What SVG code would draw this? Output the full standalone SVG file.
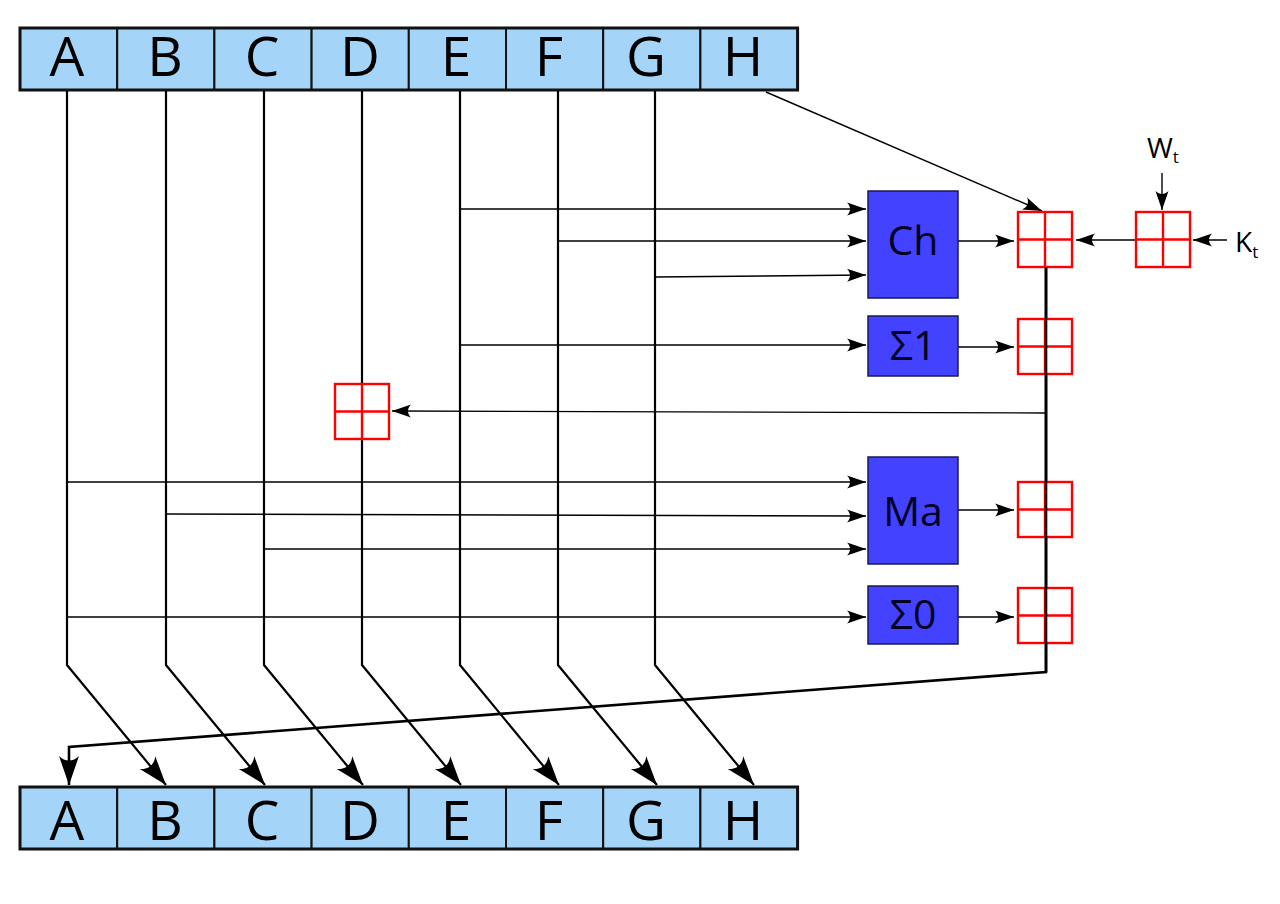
<svg xmlns="http://www.w3.org/2000/svg" xmlns:xlink="http://www.w3.org/1999/xlink" width="1280" height="904" viewBox="0 0 1280 904">
<style>
.reg{fill:#a4d4f8;stroke:#111;stroke-width:2}
.regout{fill:none;stroke:#111;stroke-width:3}
.rt{font-family:"Open Sans","Noto Sans",sans-serif;font-size:55px;fill:#000;text-anchor:middle}
.fn{fill:#4343ff;stroke:#1a1a55;stroke-width:1.5}
.ft{font-family:"Open Sans","Noto Sans",sans-serif;font-size:41px;fill:#000022;text-anchor:middle}
.lbl{font-family:"Open Sans","Noto Sans",sans-serif;font-size:28px;fill:#000}
.add{fill:#fff;stroke:#ff0000;stroke-width:2.4}
.w{fill:none;stroke:#000;stroke-width:1.4}
.t{fill:none;stroke:#000;stroke-width:2.2}
.b{fill:none;stroke:#000;stroke-width:2.6}
</style>
<defs>
<marker id="sa" markerUnits="userSpaceOnUse" orient="auto" refX="0" refY="0" markerWidth="30" markerHeight="30" overflow="visible">
<path d="M0,0 L-19,-6.5 C-15,-2.5 -15,2.5 -19,6.5 Z" fill="#000"/>
</marker>
<marker id="ba" markerUnits="userSpaceOnUse" orient="auto" refX="0" refY="0" markerWidth="40" markerHeight="40" overflow="visible">
<path d="M0,0 L-29,-10 C-23,-4 -23,4 -29,10 Z" fill="#000"/>
</marker>
<g id="adder">
<rect x="0" y="0" width="54" height="55" class="add"/>
<path d="M27,0 V55 M0,27.5 H54" stroke="#ff0000" stroke-width="2.4" fill="none"/>
</g>
</defs>

<g id="reg-top">
<rect x="20" y="28" width="97.2" height="62" class="reg"/>
<rect x="117.2" y="28" width="97.2" height="62" class="reg"/>
<rect x="214.4" y="28" width="97.2" height="62" class="reg"/>
<rect x="311.6" y="28" width="97.2" height="62" class="reg"/>
<rect x="408.8" y="28" width="97.2" height="62" class="reg"/>
<rect x="506" y="28" width="97.2" height="62" class="reg"/>
<rect x="603.2" y="28" width="97.2" height="62" class="reg"/>
<rect x="700.4" y="28" width="97.2" height="62" class="reg"/>
<rect x="20" y="28" width="777.6" height="62" class="regout"/>
<text x="67" y="76" class="rt">A</text>
<text x="165" y="76" class="rt">B</text>
<text x="262" y="76" class="rt">C</text>
<text x="360" y="76" class="rt">D</text>
<text x="456" y="76" class="rt">E</text>
<text x="549" y="76" class="rt">F</text>
<text x="646" y="76" class="rt">G</text>
<text x="743" y="76" class="rt">H</text>
</g>

<g id="reg-bottom">
<rect x="20" y="787" width="97.2" height="62" class="reg"/>
<rect x="117.2" y="787" width="97.2" height="62" class="reg"/>
<rect x="214.4" y="787" width="97.2" height="62" class="reg"/>
<rect x="311.6" y="787" width="97.2" height="62" class="reg"/>
<rect x="408.8" y="787" width="97.2" height="62" class="reg"/>
<rect x="506" y="787" width="97.2" height="62" class="reg"/>
<rect x="603.2" y="787" width="97.2" height="62" class="reg"/>
<rect x="700.4" y="787" width="97.2" height="62" class="reg"/>
<rect x="20" y="787" width="777.6" height="62" class="regout"/>
<text x="67" y="840" class="rt">A</text>
<text x="165" y="840" class="rt">B</text>
<text x="262" y="840" class="rt">C</text>
<text x="360" y="840" class="rt">D</text>
<text x="456" y="840" class="rt">E</text>
<text x="549" y="840" class="rt">F</text>
<text x="646" y="840" class="rt">G</text>
<text x="743" y="840" class="rt">H</text>
</g>

<g id="connectors">
<path class="t" d="M67,91 V665 L166,785" marker-end="url(#ba)"/>
<path class="t" d="M166,91 V665 L265,785" marker-end="url(#ba)"/>
<path class="t" d="M264,91 V665 L363,785" marker-end="url(#ba)"/>
<path class="t" d="M362,91 V665 L461,785" marker-end="url(#ba)"/>
<path class="t" d="M460,91 V665 L559,785" marker-end="url(#ba)"/>
<path class="t" d="M558,91 V665 L657,785" marker-end="url(#ba)"/>
<path class="t" d="M655,91 V665 L754,785" marker-end="url(#ba)"/>
<path class="b" d="M1046,267 V672 L69,747 V785" marker-end="url(#ba)"/>
<path class="w" d="M766,92 L1042,211" marker-end="url(#sa)"/>
<path class="w" d="M460,209 H866" marker-end="url(#sa)"/>
<path class="w" d="M558,241 H866" marker-end="url(#sa)"/>
<path class="w" d="M655,277 L866,275" marker-end="url(#sa)"/>
<path class="w" d="M460,345 H866" marker-end="url(#sa)"/>
<path class="w" d="M67,482 H866" marker-end="url(#sa)"/>
<path class="w" d="M166,514 L866,516" marker-end="url(#sa)"/>
<path class="w" d="M264,549 H866" marker-end="url(#sa)"/>
<path class="w" d="M67,617 H866" marker-end="url(#sa)"/>
<path class="w" d="M958,241 H1014" marker-end="url(#sa)"/>
<path class="w" d="M958,347 H1014" marker-end="url(#sa)"/>
<path class="w" d="M958,510 H1014" marker-end="url(#sa)"/>
<path class="w" d="M958,617 H1014" marker-end="url(#sa)"/>
<path class="w" d="M1135,240 H1076" marker-end="url(#sa)"/>
<path class="w" d="M1227,240 H1193" marker-end="url(#sa)"/>
<path class="w" d="M1162,173 V210" marker-end="url(#sa)"/>
<path class="w" d="M1046,413 L392,411" marker-end="url(#sa)"/>
</g>

<g id="ch"><rect x="868" y="191" width="90" height="107" class="fn"/><text x="913" y="255" class="ft">Ch</text></g>
<g id="sigma1"><rect x="868" y="316" width="90" height="60" class="fn"/><text x="913" y="360" class="ft">Σ1</text></g>
<g id="ma"><rect x="868" y="457" width="90" height="107" class="fn"/><text x="913" y="526" class="ft">Ma</text></g>
<g id="sigma0"><rect x="868" y="586" width="90" height="58" class="fn"/><text x="913" y="629" class="ft">Σ0</text></g>

<g id="add-ch"><use xlink:href="#adder" href="#adder" x="1018" y="212"/></g>
<g id="add-s1"><use xlink:href="#adder" href="#adder" x="1018" y="319"/></g>
<g id="add-ma"><use xlink:href="#adder" href="#adder" x="1018" y="482"/></g>
<g id="add-s0"><use xlink:href="#adder" href="#adder" x="1018" y="588"/></g>
<g id="add-wk"><use xlink:href="#adder" href="#adder" x="1136" y="212"/></g>
<g id="add-d"><use xlink:href="#adder" href="#adder" x="335" y="384"/></g>

<g id="bus-overlay"><path class="b" d="M1046,267 V672"/></g>

<g id="wt"><text x="1147" y="158" class="lbl">W<tspan font-size="17" dy="5">t</tspan></text></g>
<g id="kt"><text x="1235" y="252" class="lbl">K<tspan font-size="17" dy="6">t</tspan></text></g>
</svg>
